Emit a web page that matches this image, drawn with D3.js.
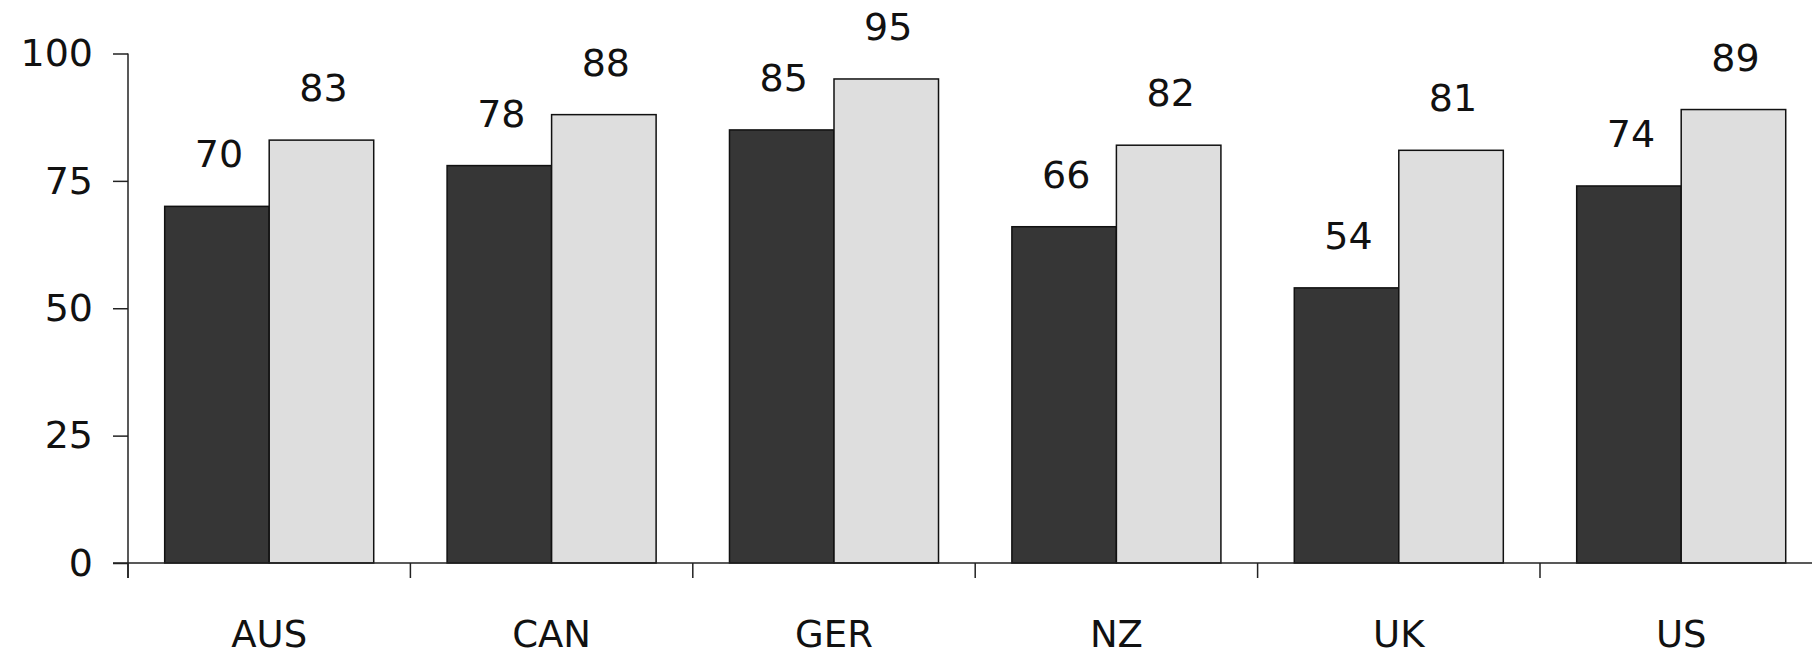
<!DOCTYPE html>
<html>
<head>
<meta charset="utf-8">
<script src="https://cdn.jsdelivr.net/npm/d3@7"></script>
<style>
html,body{margin:0;padding:0;background:#fff;}
svg{display:block;}
text{font-family:"DejaVu Sans",sans-serif;fill:#111;}
</style>
</head>
<body>
<svg id="chart" width="1812" height="657"></svg>
<script>
const categories = ["AUS", "CAN", "GER", "NZ", "UK", "US"];
const seriesDark = [70, 78, 85, 66, 54, 74];
const seriesLight = [83, 88, 95, 82, 81, 89];
const yTicks = [0, 25, 50, 75, 100];

const svg = d3.select("#chart");
const W = 1812, H = 657;
const x0 = 128, y0 = 563, yTop = 53.5, step = 282.4;

const x = d3.scaleBand().domain(categories).range([x0, x0 + step * categories.length]).padding(0);
const xi = d3.scaleBand().domain(["dark", "light"]).range([0, x.bandwidth()]).paddingInner(0).paddingOuter(0.351);
const y = d3.scaleLinear().domain([0, 100]).range([y0, yTop]);

const data = categories.map((c, i) => ({cat: c, vals: [{k: "dark", v: seriesDark[i]}, {k: "light", v: seriesLight[i]}]}));
const fills = {dark: "#363636", light: "#dedede"};

// bars
const g = svg.append("g");
const groups = g.selectAll("g.grp").data(data).enter().append("g")
  .attr("transform", d => `translate(${x(d.cat)},0)`);
groups.selectAll("rect").data(d => d.vals).enter().append("rect")
  .attr("x", d => xi(d.k))
  .attr("y", d => y(d.v))
  .attr("width", xi.bandwidth())
  .attr("height", d => y(0) - y(d.v))
  .attr("fill", d => fills[d.k])
  .attr("stroke", "#111")
  .attr("stroke-width", 1.5);
groups.selectAll("text.val").data(d => d.vals).enter().append("text")
  .attr("class", "val")
  .attr("x", d => xi(d.k) + xi.bandwidth() / 2 + 2)
  .attr("y", d => y(d.v) - 39)
  .attr("text-anchor", "middle")
  .attr("font-size", 38)
  .text(d => d.v);

// y axis
const yAxis = d3.axisLeft(y).tickValues(yTicks).tickSize(15).tickPadding(20);
const ya = svg.append("g").attr("transform", `translate(${x0},0)`).call(yAxis);
ya.select(".domain").remove();
ya.append("line").attr("x1", 0).attr("x2", 0).attr("y1", yTop).attr("y2", y0 + 15).attr("stroke", "#222").attr("stroke-width", 1.5);
ya.selectAll(".tick line").attr("stroke", "#222").attr("stroke-width", 1.5);
ya.selectAll(".tick text").attr("font-size", 38).attr("font-family", "DejaVu Sans").attr("fill", "#111");

// x axis
const xa = svg.append("g");
xa.append("line").attr("x1", x0 - 15).attr("x2", W).attr("y1", y0).attr("y2", y0).attr("stroke", "#222").attr("stroke-width", 1.5);
xa.selectAll("line.tk").data(categories).enter().append("line")
  .attr("class", "tk")
  .attr("x1", d => x(d)).attr("x2", d => x(d))
  .attr("y1", y0).attr("y2", y0 + 15)
  .attr("stroke", "#222").attr("stroke-width", 1.5);
xa.selectAll("text").data(categories).enter().append("text")
  .attr("x", d => x(d) + x.bandwidth() / 2)
  .attr("y", 647)
  .attr("text-anchor", "middle")
  .attr("font-size", 37)
  .text(d => d);
</script>
</body>
</html>
